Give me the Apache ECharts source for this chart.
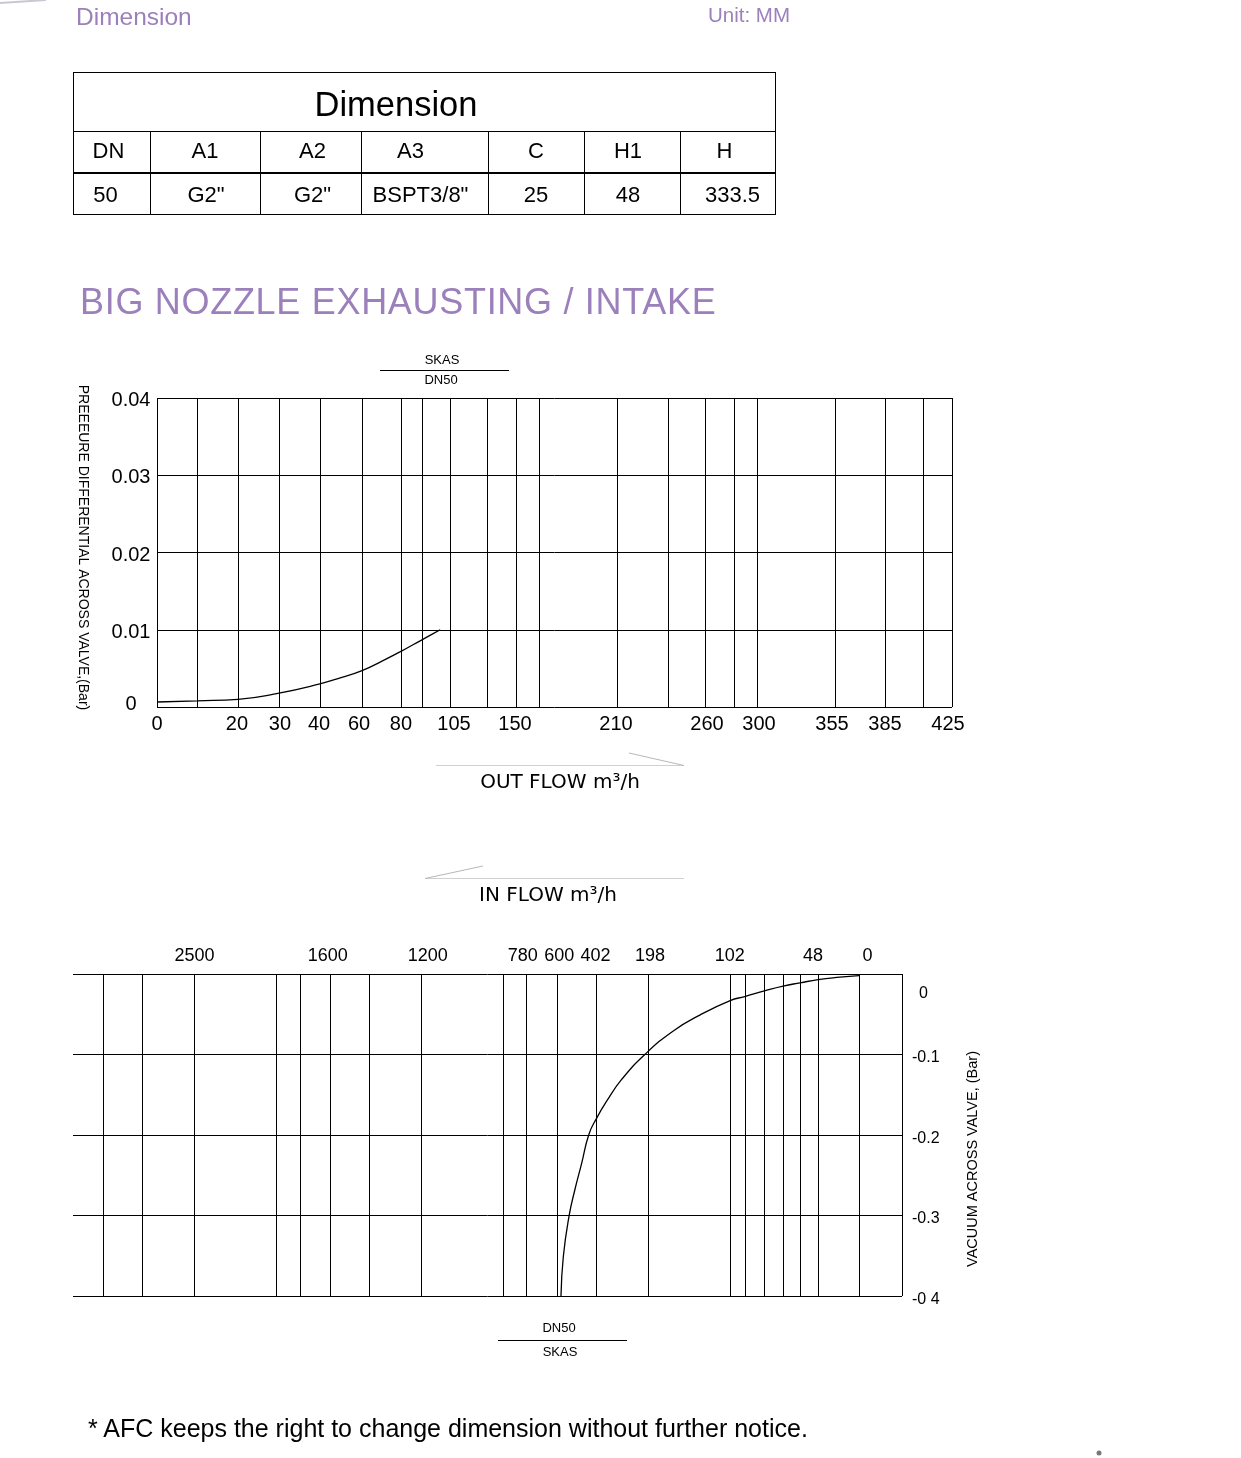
<!DOCTYPE html>
<html><head><meta charset="utf-8">
<script src="https://cdn.jsdelivr.net/npm/echarts@6/dist/echarts.min.js"></script>
<style>
html,body{margin:0;padding:0;background:#fff;}
#page{position:relative;width:1241px;height:1458px;overflow:hidden;font-family:"Liberation Sans",Arial,sans-serif;}
#chart{position:absolute;left:0;top:0;width:1241px;height:1458px;}
.t{position:absolute;white-space:nowrap;line-height:1;z-index:2;}
.ln{position:absolute;background:#000;z-index:2;}
</style></head>
<body><div id="page"><div id="chart"></div></div>
<script>
// ---------------- DATA ----------------
const headerTitle = 'Dimension';
const unitText = 'Unit: MM';
const tableTitle = 'Dimension';
const tableHeaders = ['DN', 'A1', 'A2', 'A3', 'C', 'H1', 'H'];
const tableValues = ['50', 'G2"', 'G2"', 'BSPT3/8"', '25', '48', '333.5'];
const sectionTitle = 'BIG NOZZLE EXHAUSTING / INTAKE';
const footnote = '* AFC keeps the right to change dimension without further notice.';

// Chart 1 : OUT FLOW (exhausting)
const outFlowTicks = [0, 20, 30, 40, 60, 80, 105, 150, 210, 260, 300, 355, 385, 425];
const pressureTicks = [0, 0.01, 0.02, 0.03, 0.04];
const outFlow = [0, 10, 20, 30, 40, 50, 60, 70, 80, 90, 95, 100];
const outPressure = [0.00065, 0.0008, 0.001, 0.0018, 0.003, 0.0038, 0.0047, 0.0059, 0.0072, 0.0086, 0.0093, 0.01];

// Chart 2 : IN FLOW (intake)
const inFlowTicks = [2500, 1600, 1200, 780, 600, 402, 198, 102, 48, 0];
const vacuumTicks = [0, -0.1, -0.2, -0.3, -0.4];
const vacuumTickLabels = ['0', '-0.1', '-0.2', '-0.3', '-0 4'];
const inFlow = [582, 570, 541, 511, 476, 439, 400, 361, 302, 211, 169, 137.5, 102, 93, 81, 69.5, 59, 48, 22.6, 0];
const inVacuum = [-0.4, -0.351, -0.301, -0.268, -0.235, -0.199, -0.179, -0.158, -0.131, -0.1, -0.071, -0.051, -0.033, -0.028, -0.021, -0.015, -0.011, -0.007, -0.004, -0.002];

// ---------------- LAYOUT (non-linear nomogram scales, in % of axis length) ----------------
const outTickPos   = [0, 10.19, 15.35, 20.50, 25.79, 30.69, 36.86, 45.16, 57.86, 68.93, 75.47, 85.28, 91.57, 100];
const outLabelPos  = [0, 10.06, 15.47, 20.38, 25.41, 30.69, 37.36, 45.03, 57.74, 69.18, 75.72, 84.91, 91.57, 99.5];
const outExtraGrid = [5.03, 33.33, 41.51, 48.05, 64.28, 72.58, 96.35];
const inTickPos    = [14.66, 31.05, 42.02, 54.68, 58.44, 63.11, 69.38, 79.27, 89.88, 94.82];
const inLabelPos   = [14.66, 30.74, 42.79, 54.24, 58.65, 63.04, 69.59, 79.23, 89.26, 95.83];
const inExtraGrid  = [3.69, 8.39, 24.54, 27.43, 35.75, 51.90, 81.08, 83.37, 85.66, 87.71, 100];

const PURPLE = '#9b80bb';
const FONT = '"Liberation Sans", Arial, Helvetica, sans-serif';

// ---------------- HTML parts (header, table, footer) ----------------
const page = document.getElementById('page');
function addText(txt, x, y, size, o) {
  o = o || {};
  const d = document.createElement('div');
  d.className = 't';
  d.textContent = txt;
  d.style.fontSize = size + 'px';
  d.style.color = o.color || '#000';
  d.style.left = x + 'px';
  d.style.top = y + 'px';
  if (o.ls) d.style.letterSpacing = o.ls + 'px';
  d.style.transform = 'translate(' + (o.left ? '0' : '-50%') + ',-50%)';
  page.appendChild(d);
}
function addLine(x, y, w, h) {
  const d = document.createElement('div');
  d.className = 'ln';
  d.style.left = x + 'px'; d.style.top = y + 'px';
  d.style.width = w + 'px'; d.style.height = h + 'px';
  page.appendChild(d);
}
addText(headerTitle, 76, 17, 24.5, {color: PURPLE, left: true});
addText(unitText, 708, 15, 20.5, {color: PURPLE, left: true});
addText(sectionTitle, 80, 302, 36, {color: PURPLE, left: true, ls: 0.7});
addText(footnote, 88, 1428, 25, {left: true});

// table geometry
const colEdges = [73, 150, 260, 361, 488, 584, 680, 775];
const headShift = [-3, 0, 2, -14, 0, -4, -3];
const valShift = [-6, 1, 2, -4, 0, -4, 5];
addLine(73, 72, 703, 1);
addLine(73, 131, 703, 1);
addLine(73, 172, 703, 2);
addLine(73, 214, 703, 1);
addLine(73, 72, 1, 143);
addLine(775, 72, 1, 143);
for (let i = 1; i < colEdges.length - 1; i++) addLine(colEdges[i], 131, 1, 84);
addText(tableTitle, 396, 104, 34.5);
tableHeaders.forEach((h, i) => addText(h, (colEdges[i] + colEdges[i + 1]) / 2 + headShift[i], 151, 22));
tableValues.forEach((v, i) => addText(v, (colEdges[i] + colEdges[i + 1]) / 2 + valShift[i], 195, 22));

// ---------------- helpers ----------------
function toPos(v, ticks, pos) {
  for (let i = 0; i < ticks.length - 1; i++) {
    const a = ticks[i], b = ticks[i + 1];
    if ((v - a) * (v - b) <= 0) return pos[i] + (v - a) / (b - a) * (pos[i + 1] - pos[i]);
  }
  return pos[pos.length - 1];
}
function labelAt(v, pos, labels) {
  let best = -1, d = 1e9;
  pos.forEach((p, i) => { const dd = Math.abs(p - v); if (dd < d) { d = dd; best = i; } });
  return d < 0.001 ? String(labels[best]) : '';
}
const outGrid = outTickPos.concat(outExtraGrid).sort((a, b) => a - b);
const inGrid = inTickPos.concat(inExtraGrid).sort((a, b) => a - b);

const gridLine = {show: true, lineStyle: {color: '#000', width: 1, type: 'solid'}};

// ---------------- ECharts ----------------
const chart = echarts.init(document.getElementById('chart'), null, {renderer: 'canvas'});
const option = {
  backgroundColor: '#fff',
  animation: false,
  grid: [
    {left: 157, top: 398, width: 795, height: 309},
    {left: 73, top: 974, width: 829, height: 322}
  ],
  xAxis: [
    {
      gridIndex: 0, type: 'value', min: 0, max: 100, position: 'bottom',
      axisLine: {show: false},
      axisTick: {show: false, customValues: outGrid},
      splitLine: gridLine,
      axisLabel: {
        customValues: outLabelPos, color: '#000', fontSize: 20, fontFamily: FONT, margin: 7,
        showMinLabel: true, showMaxLabel: true,
        formatter: v => labelAt(v, outLabelPos, outFlowTicks)
      },
      name: 'OUT FLOW m³/h', nameLocation: 'middle', nameGap: 66,
      nameTextStyle: {color: '#000', fontSize: 20, fontFamily: '"DejaVu Sans", Verdana, sans-serif', padding: [0, 0, 0, 11]}
    },
    {
      gridIndex: 1, type: 'value', min: 0, max: 100, position: 'top',
      axisLine: {show: false},
      axisTick: {show: false, customValues: inGrid},
      splitLine: gridLine,
      axisLabel: {
        customValues: inLabelPos, color: '#000', fontSize: 18, fontFamily: FONT, margin: 9,
        showMinLabel: true, showMaxLabel: true,
        formatter: v => labelAt(v, inLabelPos, inFlowTicks)
      },
      name: 'IN FLOW m³/h', nameLocation: 'middle', nameGap: 68,
      nameTextStyle: {color: '#000', fontSize: 20, fontFamily: '"DejaVu Sans", Verdana, sans-serif', padding: [0, 0, 0, 121]}
    }
  ],
  yAxis: [
    {
      gridIndex: 0, type: 'value', min: 0, max: 0.04, interval: 0.01,
      axisLine: {show: false}, axisTick: {show: false},
      splitLine: gridLine,
      axisLabel: {
        color: '#000', fontSize: 20, fontFamily: FONT, margin: 26, align: 'center',
        formatter: v => {
          const i = pressureTicks.findIndex(t => Math.abs(t - v) < 1e-9);
          if (i < 0) return '';
          return i === 0 ? '{b|0}' : '{a|' + pressureTicks[i].toFixed(2) + '}';
        },
        rich: {
          a: {fontSize: 20, fontFamily: FONT, color: '#000', padding: [5, 0, 0, 0]},
          b: {fontSize: 20, fontFamily: FONT, color: '#000', padding: [0, 0, 6, 0]}
        }
      },
      name: 'PREEEURE DIFFERENTIAL ACROSS VALVE,(Bar)', nameLocation: 'middle', nameRotate: -90, nameGap: 67,
      nameTextStyle: {color: '#000', fontSize: 14, fontFamily: FONT, padding: [0, 10, 0, 0]}
    },
    {
      gridIndex: 1, type: 'value', min: -0.4, max: 0, interval: 0.1, position: 'right',
      axisLine: {show: false}, axisTick: {show: false},
      splitLine: gridLine,
      axisLabel: {
        color: '#000', fontSize: 16, fontFamily: FONT, margin: 10, align: 'left',
        formatter: v => {
          const i = vacuumTicks.findIndex(t => Math.abs(t - v) < 1e-9);
          if (i < 0) return '';
          return i === 0 ? '{z|' + vacuumTickLabels[i] + '}' : '{n|' + vacuumTickLabels[i] + '}';
        },
        rich: {
          z: {fontSize: 16, fontFamily: FONT, color: '#000', padding: [40, 0, 0, 7]},
          n: {fontSize: 16, fontFamily: FONT, color: '#000', padding: [7, 0, 0, 0]}
        }
      },
      name: 'VACUUM ACROSS VALVE, (Bar)', nameLocation: 'middle', nameRotate: 90, nameGap: 63,
      nameTextStyle: {color: '#000', fontSize: 14.5, fontFamily: FONT, padding: [0, 48, 0, 0]}
    }
  ],
  series: [
    {
      name: 'DN50 out', type: 'line', xAxisIndex: 0, yAxisIndex: 0,
      data: outFlow.map((f, i) => [toPos(f, outFlowTicks, outTickPos), outPressure[i]]),
      smooth: 0.5, showSymbol: false, silent: true,
      lineStyle: {color: '#000', width: 1.3}
    },
    {
      name: 'DN50 in', type: 'line', xAxisIndex: 1, yAxisIndex: 1,
      data: inFlow.map((f, i) => [toPos(f, inFlowTicks, inTickPos), inVacuum[i]]),
      smooth: 0.5, showSymbol: false, silent: true,
      lineStyle: {color: '#000', width: 1.3}
    }
  ],
  graphic: [
    {type: 'text', x: 442, y: 360, style: {text: 'SKAS', fill: '#000', font: '13px ' + FONT, align: 'center', verticalAlign: 'middle'}},
    {type: 'line', shape: {x1: 380, y1: 370.5, x2: 509, y2: 370.5}, style: {stroke: '#000', lineWidth: 1}},
    {type: 'text', x: 441, y: 380, style: {text: 'DN50', fill: '#000', font: '13px ' + FONT, align: 'center', verticalAlign: 'middle'}},
    {type: 'text', x: 559, y: 1328, style: {text: 'DN50', fill: '#000', font: '13px ' + FONT, align: 'center', verticalAlign: 'middle'}},
    {type: 'line', shape: {x1: 498, y1: 1340.5, x2: 627, y2: 1340.5}, style: {stroke: '#000', lineWidth: 1}},
    {type: 'text', x: 560, y: 1352, style: {text: 'SKAS', fill: '#000', font: '13px ' + FONT, align: 'center', verticalAlign: 'middle'}},
    {type: 'line', shape: {x1: 436, y1: 765.5, x2: 684, y2: 765.5}, style: {stroke: '#d0d0d0', lineWidth: 1}},
    {type: 'line', shape: {x1: 629, y1: 753, x2: 684, y2: 765.5}, style: {stroke: '#b8b8b8', lineWidth: 1}},
    {type: 'line', shape: {x1: 425, y1: 878.5, x2: 684, y2: 878.5}, style: {stroke: '#d0d0d0', lineWidth: 1}},
    {type: 'line', shape: {x1: 425, y1: 878.5, x2: 483, y2: 866}, style: {stroke: '#b8b8b8', lineWidth: 1}},
    {type: 'line', shape: {x1: 0, y1: 3, x2: 46, y2: 0}, style: {stroke: '#c8c8d0', lineWidth: 2}},
    {type: 'circle', shape: {cx: 1099, cy: 1453, r: 2.5}, style: {fill: '#777'}}
  ]
};
chart.setOption(option);
</script>
</body></html>
